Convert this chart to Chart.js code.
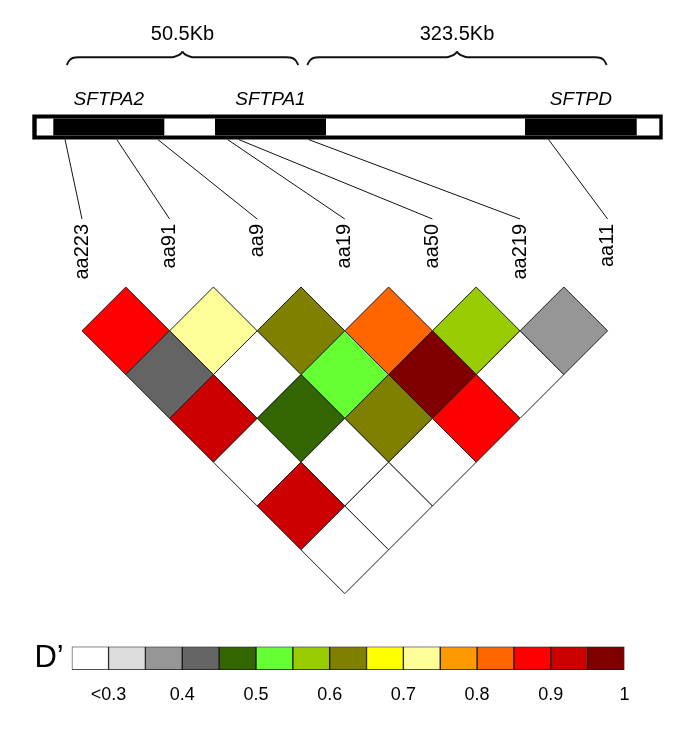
<!DOCTYPE html>
<html>
<head>
<meta charset="utf-8">
<script src="https://cdn.jsdelivr.net/npm/chart.js@4.4.1/dist/chart.umd.min.js"></script>
<style>
  html, body { margin: 0; padding: 0; background: #ffffff; }
  #wrap { position: relative; width: 685px; height: 750px; overflow: hidden; }
  canvas { position: absolute; left: 0; }
</style>
</head>
<body>
<div id="wrap">
  <canvas id="main" width="685" height="620" style="top:0px"></canvas>
  <canvas id="legend" width="685" height="130" style="top:620px"></canvas>
</div>
<script>
// ---------------- DATA ----------------
const snpLabels = ['aa223', 'aa91', 'aa9', 'aa19', 'aa50', 'aa219', 'aa11'];
// schematic position of each SNP along the gene map (% of map length)
const snpMapPos = [5.19, 13.39, 19.9, 30.96, 32.71, 43.8, 81.88];

const geneNames = ['SFTPA2', 'SFTPA1', 'SFTPD'];
const geneStart = [3.33, 28.98, 78.16];
const geneEnd   = [20.94, 46.59, 95.88];

const regionLabels = ['50.5Kb', '323.5Kb'];
const regionStart  = [5.46, 43.62];
const regionEnd    = [42.19, 91.12];

// pairwise D' values, by SNP distance (lag): pair (i, i+lag)
const dPrimeLag1 = [0.87, 0.72, 0.62, 0.82, 0.57, 0.37];
const dPrimeLag2 = [0.42, 0.20, 0.52, 0.97, 0.20];
const dPrimeLag3 = [0.92, 0.47, 0.62, 0.87];
const dPrimeLag4 = [0.20, 0.20, 0.20];
const dPrimeLag5 = [0.92, 0.20];
const dPrimeLag6 = [0.20];

// colour key
const legendBinStart = [0.25, 0.30, 0.35, 0.40, 0.45, 0.50, 0.55, 0.60, 0.65, 0.70, 0.75, 0.80, 0.85, 0.90, 0.95];
const legendBinEnd   = [0.30, 0.35, 0.40, 0.45, 0.50, 0.55, 0.60, 0.65, 0.70, 0.75, 0.80, 0.85, 0.90, 0.95, 1.00];
const legendColors   = ['#FFFFFF', '#DCDCDC', '#969696', '#646464', '#336600', '#66FF33', '#99CC00', '#808000',
                        '#FFFF00', '#FFFF99', '#FF9900', '#FF6600', '#FF0000', '#CC0000', '#800000'];
const legendTickValues = [0.3, 0.4, 0.5, 0.6, 0.7, 0.8, 0.9, 1.0];
const legendTickLabels = ['<0.3', '0.4', '0.5', '0.6', '0.7', '0.8', '0.9', '1'];
const legendTitle = 'D\u2019';

// ---------------- LAYOUT (axis ranges & decoration levels, in axis units) ----------------
const FONT = '"Liberation Sans", Arial, Helvetica, sans-serif';
const X_MIN = -0.93607, X_MAX = 6.88356;      // SNP-index axis
const Y_MIN = -3.27626, Y_MAX = 3.80137;      // depth axis (reversed), SNP-index units
const MAP_MIN = -5.1237, MAP_MAX = 103.537;   // gene-map axis, % of map
const L = {
  barY: -1.8265,
  barInner: [0.70, 99.46],
  connTop: -1.6838,
  connBottom: -0.7763,
  labelTop: -0.7192,
  geneNameY: -2.0776,
  regionLabelY: -2.8253,
  braceEnd: [{dx: 0, y: -2.5342}, {dx: 0.40, y: -2.5856}, {dx: 0.95, y: -2.6142}, {dx: 1.9, y: -2.6233}],
  braceTip: [{dx: -1.6, y: -2.6233}, {dx: -0.8, y: -2.6404}, {dx: -0.24, y: -2.6655}, {dx: 0, y: -2.6884}]
};

function colourFor(v) {
  let k = 0;
  for (let b = 0; b < legendBinStart.length; b++) if (v >= legendBinStart[b] && b > 0) k = b;
  return legendColors[k];
}
function snpToMap(i) {
  const frac = (i - X_MIN) / (X_MAX - X_MIN);
  return MAP_MIN + frac * (MAP_MAX - MAP_MIN);
}

// ---------------- MAIN CHART ----------------
const lags = [dPrimeLag1, dPrimeLag2, dPrimeLag3, dPrimeLag4, dPrimeLag5, dPrimeLag6];
const ldPoints = [];
lags.forEach((arr, li) => {
  const lag = li + 1;
  arr.forEach((v, i) => ldPoints.push({x: (i + i + lag) / 2, y: lag / 2, v: v}));
});

function halfCell(chart) {
  const s = chart.scales.x;
  return Math.abs(s.getPixelForValue(0.5) - s.getPixelForValue(0));
}

const lineBase = {type: 'line', xAxisID: 'xMap', yAxisID: 'y', pointRadius: 0, pointHoverRadius: 0, fill: false};
const datasets = [];

datasets.push({
  type: 'scatter', label: "D'", data: ldPoints, xAxisID: 'x', yAxisID: 'y',
  pointStyle: 'rectRot',
  pointRadius: ctx => halfCell(ctx.chart),
  pointHoverRadius: ctx => halfCell(ctx.chart),
  pointBackgroundColor: ctx => colourFor(ctx.raw ? ctx.raw.v : 0),
  pointHoverBackgroundColor: ctx => colourFor(ctx.raw ? ctx.raw.v : 0),
  pointBorderColor: '#1e1e1e', pointBorderWidth: 1, pointHoverBorderWidth: 1,
  order: 1
});

// gene map bar: frame, interior, genes
datasets.push(Object.assign({}, lineBase, {
  label: 'map frame', data: [{x: 0, y: L.barY}, {x: 100, y: L.barY}],
  borderColor: '#000', borderWidth: 25, borderCapStyle: 'butt', order: 30
}));
datasets.push(Object.assign({}, lineBase, {
  label: 'map interior', data: [{x: L.barInner[0], y: L.barY}, {x: L.barInner[1], y: L.barY}],
  borderColor: '#FFFFFF', borderWidth: 17, borderCapStyle: 'butt', order: 29
}));
geneNames.forEach((g, k) => {
  datasets.push(Object.assign({}, lineBase, {
    label: g, data: [{x: geneStart[k], y: L.barY}, {x: geneEnd[k], y: L.barY}],
    borderColor: '#000', borderWidth: 17, borderCapStyle: 'butt', order: 28
  }));
});
// connectors from map position to SNP label
snpLabels.forEach((s, i) => {
  datasets.push(Object.assign({}, lineBase, {
    label: s + ' link', data: [{x: snpMapPos[i], y: L.connTop}, {x: snpToMap(i), y: L.connBottom}],
    borderColor: '#111', borderWidth: 1, order: 20
  }));
});
// braces over regions
regionLabels.forEach((r, k) => {
  const s = regionStart[k], e = regionEnd[k], t = (s + e) / 2;
  const left = L.braceEnd.map(p => ({x: s + p.dx, y: p.y})).concat(L.braceTip.map(p => ({x: t + p.dx, y: p.y})));
  const right = L.braceTip.slice().reverse().map(p => ({x: t - p.dx, y: p.y}))
    .concat(L.braceEnd.slice().reverse().map(p => ({x: e - p.dx, y: p.y})));
  [left, right].forEach(d => datasets.push(Object.assign({}, lineBase, {
    label: r + ' brace', data: d, borderColor: '#111', borderWidth: 1.9,
    cubicInterpolationMode: 'monotone', order: 20
  })));
});

const textPlugin = {
  id: 'mapText',
  afterDatasetsDraw(chart) {
    const {ctx} = chart;
    const x = chart.scales.x, xMap = chart.scales.xMap, y = chart.scales.y;
    ctx.save();
    ctx.fillStyle = '#000';
    ctx.textBaseline = 'alphabetic';
    ctx.textAlign = 'center';
    ctx.font = '20px ' + FONT;
    regionLabels.forEach((t, k) => {
      ctx.fillText(t, xMap.getPixelForValue((regionStart[k] + regionEnd[k]) / 2), y.getPixelForValue(L.regionLabelY));
    });
    ctx.font = 'italic 19px ' + FONT;
    geneNames.forEach((g, k) => {
      ctx.fillText(g, xMap.getPixelForValue((geneStart[k] + geneEnd[k]) / 2), y.getPixelForValue(L.geneNameY));
    });
    ctx.font = '20px ' + FONT;
    snpLabels.forEach((s, i) => {
      ctx.save();
      ctx.translate(x.getPixelForValue(i), y.getPixelForValue(L.labelTop));
      ctx.rotate(-Math.PI / 2);
      ctx.textAlign = 'right';
      ctx.textBaseline = 'middle';
      ctx.fillText(s, 0, 0);
      ctx.restore();
    });
    ctx.restore();
  }
};

new Chart(document.getElementById('main'), {
  type: 'scatter',
  data: {datasets: datasets},
  options: {
    responsive: false, animation: false, devicePixelRatio: 1, events: [],
    layout: {padding: 0},
    plugins: {legend: {display: false}, tooltip: {enabled: false}},
    scales: {
      x: {type: 'linear', axis: 'x', display: false, min: X_MIN, max: X_MAX},
      xMap: {type: 'linear', axis: 'x', display: false, min: MAP_MIN, max: MAP_MAX},
      y: {type: 'linear', axis: 'y', display: false, reverse: true, min: Y_MIN, max: Y_MAX}
    }
  },
  plugins: [textPlugin]
});

// ---------------- COLOUR KEY ----------------
new Chart(document.getElementById('legend'), {
  type: 'bar',
  data: {
    labels: [legendTitle],
    datasets: legendColors.map((c, k) => ({
      label: String(legendBinStart[k]),
      data: [[legendBinStart[k], legendBinEnd[k]]],
      backgroundColor: c, borderColor: '#1a1a1a', borderWidth: 1, borderSkipped: false,
      grouped: false, barPercentage: 1, categoryPercentage: 1
    }))
  },
  options: {
    indexAxis: 'y', responsive: false, animation: false, devicePixelRatio: 1, events: [],
    layout: {padding: {top: 20, right: 60.5, bottom: 0, left: 0}},
    plugins: {legend: {display: false}, tooltip: {enabled: false}},
    scales: {
      x: {
        type: 'linear', min: 0.25, max: 1.0,
        grid: {display: false, drawTicks: false}, border: {display: false},
        afterBuildTicks: s => { s.ticks = legendTickValues.map(v => ({value: v})); },
        afterFit: s => { s.height = 80; },
        ticks: {autoSkip: false, maxRotation: 0, minRotation: 0, padding: 14, color: '#000',
                font: {family: FONT, size: 18}, callback: (v, i) => legendTickLabels[i]}
      },
      y: {
        grid: {display: false, drawTicks: false}, border: {display: false},
        afterFit: s => { s.width = 71.7; },
        ticks: {padding: 8, color: '#000', font: {family: FONT, size: 31}}
      }
    }
  }
});
</script>
</body>
</html>
